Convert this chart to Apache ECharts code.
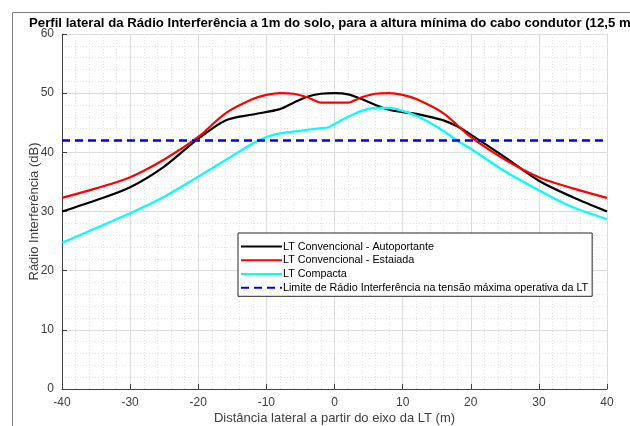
<!DOCTYPE html>
<html>
<head>
<meta charset="utf-8">
<script src="https://cdn.jsdelivr.net/npm/echarts@6/dist/echarts.min.js"></script>
<style>
  html, body { margin: 0; padding: 0; background: #fff; }
  #chart { width: 630px; height: 426px; }
</style>
</head>
<body>
<div id="chart"></div>
<script>
// valores
var xTicks = [-40, -30, -20, -10, 0, 10, 20, 30, 40]
var yTicks = [0, 10, 20, 30, 40, 50, 60]

var autoX = [-40, -35, -30, -25, -20, -16, -12, -8, -6, -4, -2, 0, 2, 4, 6, 8, 10, 12, 14, 16, 18, 20, 25, 30, 35, 40]
var autoY = [30.0, 31.9, 34.1, 37.6, 42.3, 45.4, 46.4, 47.3, 48.4, 49.4, 49.9, 50.0, 49.8, 49.0, 48.0, 47.2, 46.8, 46.5, 46.0, 45.4, 44.4, 43.0, 39.2, 35.2, 32.4, 30.0]

var estaiX = [-40, -35, -30, -25, -20, -16, -12, -10, -8, -6, -4, -3, -2, 0, 2, 3, 4, 6, 8, 10, 12, 16, 20, 25, 30, 35, 40]
var estaiY = [32.3, 33.9, 35.8, 38.8, 42.6, 46.6, 49.0, 49.7, 50.0, 49.9, 49.3, 48.8, 48.4, 48.4, 48.4, 48.8, 49.3, 49.9, 50.0, 49.7, 49.0, 46.6, 42.6, 38.8, 35.8, 33.9, 32.3]

var compX = [-40, -35, -30, -25, -20, -15, -12, -10, -8, -6, -4, -2, -1, 0, 2, 4, 6, 8, 10, 12, 14, 16, 18, 20, 25, 30, 35, 40]
var compY = [24.7, 27.2, 29.7, 32.5, 35.9, 39.4, 41.5, 42.6, 43.2, 43.5, 43.8, 44.1, 44.2, 44.8, 46.0, 47.0, 47.5, 47.5, 47.0, 46.2, 45.0, 43.6, 42.0, 40.6, 36.8, 33.6, 30.7, 28.7]

var limX = [-40, 40]
var limY = [42, 42]

var names = [
  'LT Convencional - Autoportante',
  'LT Convencional - Estaiada',
  'LT Compacta',
  'Limite de Rádio Interferência na tensão máxima operativa da LT'
]

function zip (xs, ys) {
  var out = []
  for (var i = 0; i < xs.length; i++) {
    out.push([xs[i], ys[i]])
  }
  return out
}

var fontName = 'Liberation Sans, Arial, sans-serif'
var axisColor = '#404040'

var option = {
  animation: false,
  backgroundColor: '#fff',
  title: {
    text: 'Perfil lateral da Rádio Interferência a 1m do solo, para a altura mínima do cabo condutor (12,5 m)',
    left: 29,
    top: 17,
    padding: 0,
    textStyle: {
      fontFamily: fontName,
      fontSize: 13.2,
      fontWeight: 'bold',
      color: '#000'
    }
  },
  graphic: [
    {
      type: 'rect',
      shape: { x: 12.5, y: 12.5, width: 700, height: 500 },
      style: { fill: 'none', stroke: '#808080', lineWidth: 1 },
      silent: true
    }
  ],
  legend: {
    orient: 'vertical',
    left: 238,
    top: 233,
    padding: [8, 4, 3, 2],
    itemGap: 2.5,
    itemWidth: 41,
    itemHeight: 14,
    backgroundColor: '#fff',
    borderColor: '#262626',
    borderWidth: 1,
    borderRadius: 0,
    itemStyle: { opacity: 0 },
    textStyle: {
      fontFamily: fontName,
      fontSize: 10.75,
      color: '#000',
      padding: [0, 0, 0, -4]
    },
    data: names
  },
  grid: {
    left: 62,
    top: 34,
    right: 23,
    bottom: 37,
    containLabel: false,
    outerBoundsMode: 'none'
  },
  xAxis: {
    type: 'value',
    min: -40,
    max: 40,
    interval: 10,
    name: 'Distância lateral a partir do eixo da LT (m)',
    nameLocation: 'middle',
    nameGap: 23,
    nameMoveOverlap: false,
    nameTextStyle: { fontFamily: fontName, fontSize: 13, color: axisColor },
    axisLine: { show: true, onZero: false, lineStyle: { color: axisColor, width: 1 } },
    axisTick: { show: true, inside: true, length: 5, lineStyle: { color: axisColor } },
    axisLabel: {
      fontFamily: fontName, fontSize: 12, color: axisColor, margin: 8,
      customValues: xTicks
    },
    splitLine: { show: true, lineStyle: { color: '#dcdcdc', width: 1 } },
    minorTick: { show: false, splitNumber: 5 },
    minorSplitLine: { show: true, lineStyle: { color: '#e6e6e6', type: [1, 2], width: 1 } }
  },
  yAxis: {
    type: 'value',
    min: 0,
    max: 60,
    interval: 10,
    name: 'Rádio Interferência (dB)',
    nameLocation: 'middle',
    nameGap: 21,
    nameMoveOverlap: false,
    nameRotate: 90,
    nameTextStyle: { fontFamily: fontName, fontSize: 13, color: axisColor },
    axisLine: { show: true, onZero: false, lineStyle: { color: axisColor, width: 1 } },
    axisTick: { show: true, inside: true, length: 5, lineStyle: { color: axisColor } },
    axisLabel: {
      fontFamily: fontName, fontSize: 12, color: axisColor, margin: 8,
      customValues: yTicks
    },
    splitLine: { show: true, lineStyle: { color: '#dcdcdc', width: 1 } },
    minorTick: { show: false, splitNumber: 5 },
    minorSplitLine: { show: true, lineStyle: { color: '#e6e6e6', type: [1, 2], width: 1 } }
  },
  series: [
    {
      name: names[0],
      type: 'line',
      data: zip(autoX, autoY),
      showSymbol: false,
      symbol: 'none',
      smooth: 0.3,
      lineStyle: { color: '#000', width: 2.2 },
      itemStyle: { color: '#000' }
    },
    {
      name: names[1],
      type: 'line',
      data: zip(estaiX, estaiY),
      showSymbol: false,
      symbol: 'none',
      smooth: 0.3,
      lineStyle: { color: '#f00', width: 2.2 },
      itemStyle: { color: '#f00' }
    },
    {
      name: names[2],
      type: 'line',
      data: zip(compX, compY),
      showSymbol: false,
      symbol: 'none',
      smooth: 0.3,
      lineStyle: { color: '#0ff', width: 2.2 },
      itemStyle: { color: '#0ff' }
    },
    {
      name: names[3],
      type: 'line',
      data: zip(limX, limY),
      showSymbol: false,
      symbol: 'none',
      lineStyle: { color: '#0000f0', width: 2.5, type: [8, 5] },
      itemStyle: { color: '#0000f0' }
    }
  ]
}

var chart = echarts.init(document.getElementById('chart'), null, { renderer: 'canvas' })
chart.setOption(option)
</script>
</body>
</html>
